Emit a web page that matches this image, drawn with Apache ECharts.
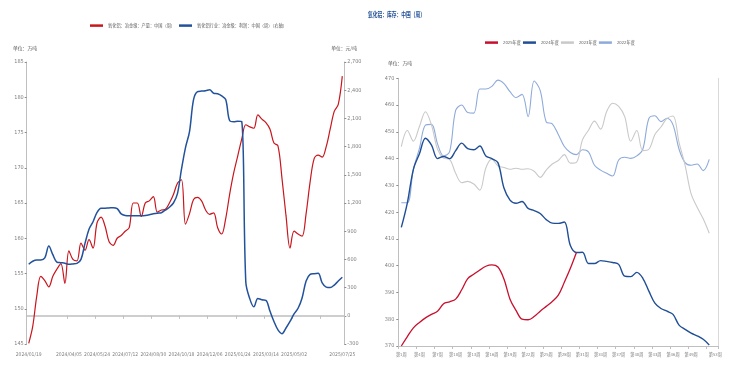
<!DOCTYPE html>
<html><head><meta charset="utf-8">
<script src="https://cdn.jsdelivr.net/npm/echarts@6/dist/echarts.min.js"></script>
<style>html,body{margin:0;padding:0;background:#fff}#c{width:732px;height:372px}</style>
</head><body><div id="c"></div>
<script>
// ---------- left chart data ----------
const dates = ['2024/01/19','2024/01/26','2024/02/02','2024/02/09','2024/02/23','2024/03/01','2024/03/08','2024/03/15','2024/03/22','2024/03/29',
'2024/04/05','2024/04/12','2024/04/19','2024/04/26','2024/05/03','2024/05/10','2024/05/17','2024/05/24','2024/05/31','2024/06/07',
'2024/06/14','2024/06/21','2024/06/28','2024/07/05','2024/07/12','2024/07/19','2024/07/26','2024/08/02','2024/08/09','2024/08/16',
'2024/08/23','2024/08/30','2024/09/06','2024/09/13','2024/09/20','2024/09/27','2024/10/04','2024/10/11','2024/10/18','2024/10/25',
'2024/11/01','2024/11/08','2024/11/15','2024/11/22','2024/11/29','2024/12/06','2024/12/13','2024/12/20','2024/12/27','2025/01/03',
'2025/01/10','2025/01/17','2025/01/24','2025/01/31','2025/02/07','2025/02/14','2025/02/21','2025/02/28','2025/03/07','2025/03/14',
'2025/03/21','2025/03/28','2025/04/04','2025/04/11','2025/04/18','2025/04/25','2025/05/02','2025/05/09','2025/05/16','2025/05/23',
'2025/05/30','2025/06/06','2025/06/13','2025/06/20','2025/06/27','2025/07/04','2025/07/11','2025/07/18','2025/07/25'];
// 产量 (万吨, left axis)
const production = [145.1,147.5,151.8,154.6,154.0,153.1,154.6,155.6,156.4,153.6,
158.2,157.0,156.8,159.3,158.3,159.8,158.6,162.2,163.0,161.7,
159.5,159.0,160.0,160.4,161.0,161.5,165.0,165.0,163.1,165.0,
165.3,165.9,163.7,164.0,164.1,165.0,166.2,167.8,168.3,162.0,
163.5,165.5,165.8,165.3,164.0,163.4,163.6,161.5,160.6,162.8,
166.3,169.3,171.7,174.1,176.1,175.8,175.6,177.5,176.9,176.4,
175.5,173.5,173.1,168.5,163.2,158.6,161.0,160.6,160.3,163.5,
168.0,171.3,171.8,171.5,173.0,175.5,178.0,179.0,183.0];
// 利润 (元/吨, right axis)
const profit = [548,580,593,593,615,742,650,572,565,560,
548,552,558,600,770,920,1000,1100,1144,1145,
1148,1150,1140,1085,1068,1065,1065,1065,1065,1068,
1075,1085,1092,1097,1125,1155,1200,1300,1560,1790,
1960,2300,2385,2391,2395,2405,2367,2362,2340,2300,
2075,2065,2070,2065,360,180,95,185,170,165,
50,-60,-150,-190,-130,-60,20,80,190,370,
440,448,452,350,305,300,327,370,410];
const leftTicks = [145,150,155,160,165,170,175,180,185];
const rightTicks = [-300,0,300,600,900,1200,1500,1800,2100,2400,2700];

// ---------- right chart data ----------
const weeks = ['第1周','第2周','第3周','第4周','第5周','第6周','第7周','第8周','第9周','第10周',
'第11周','第12周','第13周','第14周','第15周','第16周','第17周','第18周','第19周','第20周',
'第21周','第22周','第23周','第24周','第25周','第26周','第27周','第28周','第29周','第30周',
'第31周','第32周','第33周','第34周','第35周','第36周','第37周','第38周','第39周','第40周',
'第41周','第42周','第43周','第44周','第45周','第46周','第47周','第48周','第49周','第50周',
'第51周','第52周','第53周'];
const inv2025 = [370.0,373.5,376.8,378.8,380.5,381.8,383.0,385.8,386.5,387.5,
391.0,395.2,396.8,398.4,399.8,400.3,399.5,395.0,387.5,383.3,
380.0,379.8,381.0,383.0,384.8,386.6,389.0,393.8,399.0,404.9];
const inv2024 = [414.3,423.5,436.0,441.8,447.6,445.0,440.0,440.8,440.0,443.0,
445.8,443.7,443.3,444.7,441.0,440.0,438.5,429.0,424.5,423.3,
424.0,421.4,420.6,419.5,417.2,415.9,415.8,416.3,407.5,404.9,
405.0,400.8,400.8,401.9,401.6,401.2,400.5,396.1,395.9,397.5,
395.3,390.5,386.0,384.0,383.0,381.8,377.8,376.2,374.8,373.8,
372.5,370.4];
const inv2023 = [444.5,450.5,446.5,452.0,457.5,452.5,443.5,440.2,439.7,434.5,
431.0,431.5,430.5,428.2,436.5,439.8,437.3,436.7,436.0,436.4,
436.0,436.2,435.3,433.0,435.7,438.0,439.3,441.5,438.3,438.6,
447.0,450.6,454.0,451.0,457.5,460.7,459.5,455.7,446.5,450.5,
443.0,443.5,449.0,451.8,455.0,455.9,446.0,437.5,426.8,421.8,
417.5,412.1];
const inv2022 = [423.5,423.5,436.0,443.8,452.5,452.8,445.5,441.0,442.6,458.0,
460.0,457.2,457.0,466.0,466.0,467.0,469.3,468.0,465.0,462.8,
464.0,455.7,469.0,465.5,453.7,453.0,449.0,444.5,442.3,441.5,
443.3,442.5,437.5,435.7,434.5,433.5,439.5,440.5,440.1,441.0,
443.5,455.0,456.0,453.8,455.1,452.6,443.5,438.5,437.5,438.0,
435.5,439.7];
const invTicks = [370,380,390,400,410,420,430,440,450,460,470];

// ---------- styles ----------
const NARROW = "'Liberation Sans Narrow','DejaVu Sans Condensed','Noto Sans CJK SC',sans-serif";
const CJK = "'Noto Sans CJK SC',sans-serif";
const GREY_TXT = '#7f7f7f';
const AXIS_GREY = '#bfbfbf';
const RED = '#c8161d', BLUE = '#22529c';
const C2025 = '#c8102e', C2024 = '#1f4e96', C2023 = '#c9c9c9', C2022 = '#8eaadb';
const legL1 = '氧化铝：冶金级：产量：中国（周）';
const legL2 = '氧化铝行业：冶金级：利润：中国（周）（右轴）';

function fmt(v){ return String(v).replace(/\B(?=(\d{3})+(?!\d))/g, ','); }

const chart = echarts.init(document.getElementById('c'), null, {renderer:'canvas'});
const option = {
  animation: false,
  backgroundColor: '#fff',
  legend: [
    {left: 90, top: 23.5, padding: 0, itemWidth: 13, itemHeight: 2.5, itemGap: 4, icon: 'rect',
     textStyle: {fontSize: 4.2, color: '#595959', fontFamily: CJK},
     data: [legL1, legL2]},
    {left: 485, top: 40.5, padding: 0, itemWidth: 13, itemHeight: 2.5, itemGap: 2, icon: 'rect',
     textStyle: {fontSize: 4.2, color: '#595959', fontFamily: NARROW},
     data: ['2025年度','2024年度','2023年度','2022年度']}
  ],
  graphic: [
    {type:'text', left: 13, top: 45.5, style:{text:'单位：万吨', font:'4.8px ' + CJK, fill:'#595959'}},
    {type:'text', right: 375, top: 45.5, style:{text:'单位：元/吨', font:'4.8px ' + CJK, fill:'#595959'}},
    {type:'text', left: 388, top: 60.5, style:{text:'单位：万吨', font:'4.8px ' + CJK, fill:'#595959'}},
    {type:'text', x: 368, y: 11, scaleX: 0.68, style:{text:'氧化铝：库存：中国（周）', font:'bold 7px ' + CJK, fill:'#1f4e96'}}
  ],
  grid: [
    {left: 26.7, top: 62, width: 317.6, height: 282},
    {left: 398.3, top: 78.3, width: 320, height: 267.7}
  ],
  xAxis: [
    {gridIndex: 0, type: 'category', data: dates, boundaryGap: true, position: 'bottom',
     axisLine: {show: false, onZero: false}, axisTick: {show: false},
     axisLabel: {fontSize: 5, color: GREY_TXT, fontFamily: NARROW, margin: 8,
       interval: function(i){ return i === 0 || i === dates.length - 1 || (i >= 10 && i <= 66 && (i - 10) % 7 === 0); }},
     splitLine: {show: false}},
    {gridIndex: 0, type: 'category', data: dates, boundaryGap: true, position: 'bottom',
     axisLine: {show: true, onZero: true, onZeroAxisIndex: 1, lineStyle: {color: AXIS_GREY, width: 1.5}},
     axisTick: {show: true, length: 3, lineStyle: {color: AXIS_GREY},
       interval: function(i){ return i >= 10 && (i - 10) % 7 === 0; }},
     axisLabel: {show: false}, splitLine: {show: false}},
    {gridIndex: 1, type: 'category', data: weeks, boundaryGap: true, position: 'bottom',
     axisLine: {show: true, lineStyle: {color: AXIS_GREY, width: 1}},
     axisTick: {show: true, length: 3, lineStyle: {color: AXIS_GREY},
       interval: function(i){ return i % 3 === 0; }},
     axisLabel: {fontSize: 4.2, color: GREY_TXT, fontFamily: NARROW, margin: 7,
       interval: function(i){ return (i % 3 === 0 && i <= 48) || i === weeks.length - 1; }},
     splitLine: {show: false}}
  ],
  yAxis: [
    {gridIndex: 0, type: 'value', min: leftTicks[0], max: leftTicks[leftTicks.length-1], interval: 5, position: 'left',
     axisLine: {show: true, lineStyle: {color: AXIS_GREY}},
     axisTick: {show: true, length: 2, lineStyle: {color: '#8c8c8c'}},
     axisLabel: {fontSize: 5.5, color: GREY_TXT, fontFamily: NARROW, margin: 3},
     splitLine: {show: false}},
    {gridIndex: 0, type: 'value', min: rightTicks[0], max: rightTicks[rightTicks.length-1], interval: 300, position: 'right',
     axisLine: {show: true, lineStyle: {color: AXIS_GREY}},
     axisTick: {show: true, length: 2, lineStyle: {color: '#8c8c8c'}},
     axisLabel: {fontSize: 5.5, color: GREY_TXT, fontFamily: NARROW, margin: 3, formatter: fmt},
     splitLine: {show: false}},
    {gridIndex: 1, type: 'value', min: invTicks[0], max: invTicks[invTicks.length-1], interval: 10, position: 'left',
     axisLine: {show: true, lineStyle: {color: AXIS_GREY}},
     axisTick: {show: true, length: 2, lineStyle: {color: '#8c8c8c'}},
     axisLabel: {fontSize: 5.5, color: GREY_TXT, fontFamily: NARROW, margin: 4},
     splitLine: {show: false}},
    {gridIndex: 1, type: 'value', min: invTicks[0], max: invTicks[invTicks.length-1], interval: 10, position: 'right',
     axisLine: {show: true, lineStyle: {color: '#d9d9d9'}},
     axisTick: {show: false}, axisLabel: {show: false}, splitLine: {show: false}}
  ],
  series: [
    {name: legL1, type: 'line', xAxisIndex: 0, yAxisIndex: 0, data: production, smooth: 0.35,
     symbol: 'none', lineStyle: {color: RED, width: 1.2}, itemStyle: {color: RED}},
    {name: legL2, type: 'line', xAxisIndex: 0, yAxisIndex: 1, data: profit, smooth: 0.35,
     symbol: 'none', lineStyle: {color: BLUE, width: 1.5}, itemStyle: {color: BLUE}},
    {name: '2022年度', type: 'line', xAxisIndex: 2, yAxisIndex: 2, data: inv2022, smooth: 0.35,
     symbol: 'none', lineStyle: {color: C2022, width: 1.1}, itemStyle: {color: C2022}},
    {name: '2023年度', type: 'line', xAxisIndex: 2, yAxisIndex: 2, data: inv2023, smooth: 0.35,
     symbol: 'none', lineStyle: {color: C2023, width: 1.1}, itemStyle: {color: C2023}},
    {name: '2024年度', type: 'line', xAxisIndex: 2, yAxisIndex: 2, data: inv2024, smooth: 0.35,
     symbol: 'none', lineStyle: {color: C2024, width: 1.4}, itemStyle: {color: C2024}},
    {name: '2025年度', type: 'line', xAxisIndex: 2, yAxisIndex: 2, data: inv2025, smooth: 0.35,
     symbol: 'none', lineStyle: {color: C2025, width: 1.3}, itemStyle: {color: C2025}}
  ]
};
chart.setOption(option);
</script></body></html>
